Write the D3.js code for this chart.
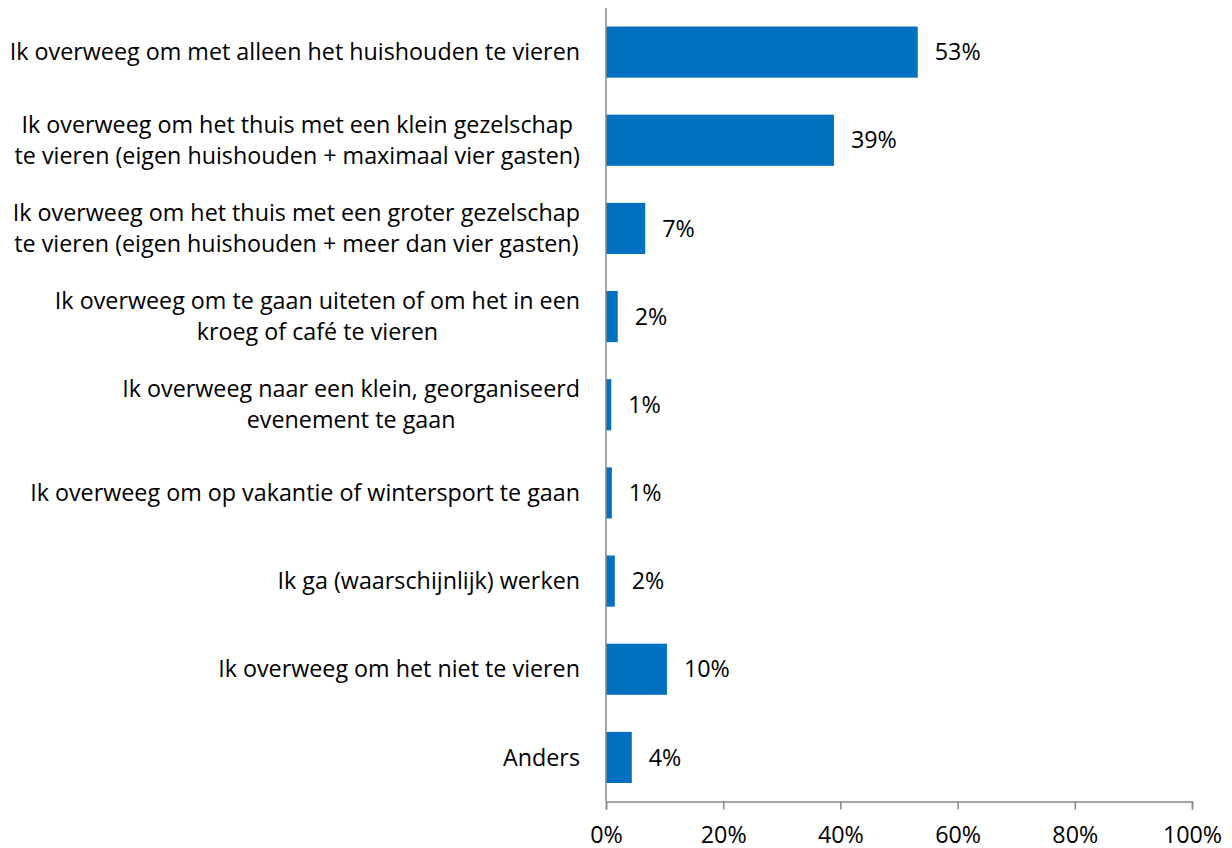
<!DOCTYPE html>
<html><head><meta charset="utf-8">
<script src="https://cdn.jsdelivr.net/npm/d3@7"></script>
<style>body{margin:0;background:#fff}svg{display:block}text{font-family:"Open Sans",sans-serif;fill:#000}</style>
</head><body><svg id="c" width="1232" height="848"></svg>
<script>
const categories = [
  ["Ik overweeg om met alleen het huishouden te vieren"],
  ["Ik overweeg om het thuis met een klein gezelschap","te vieren (eigen huishouden + maximaal vier gasten)"],
  ["Ik overweeg om het thuis met een groter gezelschap","te vieren (eigen huishouden + meer dan vier gasten)"],
  ["Ik overweeg om te gaan uiteten of om het in een","kroeg of café te vieren"],
  ["Ik overweeg naar een klein, georganiseerd","evenement te gaan"],
  ["Ik overweeg om op vakantie of wintersport te gaan"],
  ["Ik ga (waarschijnlijk) werken"],
  ["Ik overweeg om het niet te vieren"],
  ["Anders"]
];
const values = [53.2, 38.9, 6.7, 2.0, 0.9, 1.0, 1.5, 10.4, 4.4];
const labels = ["53%","39%","7%","2%","1%","1%","2%","10%","4%"];
const ticks = [0,20,40,60,80,100];

const svg = d3.select("#c");
const x = d3.scaleLinear().domain([0,100]).range([606,1192]);
const y = d3.scaleBand().domain(d3.range(categories.length)).range([8,801.5]).paddingInner(0.42).paddingOuter(0.21);
const fs = 23.3;

svg.selectAll("rect.bar").data(values).join("rect")
  .attr("x", x(0)).attr("y",(d,i)=>y(i)).attr("width",d=>x(d)-x(0)).attr("height",y.bandwidth())
  .attr("fill","#0070C0");

const xa = svg.append("g").attr("transform","translate(0,801.5)")
  .call(d3.axisBottom(x).tickValues(ticks).tickFormat(d=>d+"%").tickSize(8).tickPadding(17));
xa.select(".domain").attr("stroke","#868686").attr("stroke-width",1.5);
xa.selectAll(".tick line").attr("stroke","#868686").attr("stroke-width",1.5);
xa.selectAll(".tick text").style("font-size",fs+"px").attr("fill","#000").style("font-family","'Open Sans',sans-serif");

svg.append("line").attr("x1",606).attr("x2",606).attr("y1",8).attr("y2",801.5).attr("stroke","#868686").attr("stroke-width",1.5);

categories.forEach((lines,i)=>{
  const cy = y(i)+y.bandwidth()/2;
  const g = svg.append("g");
  const lh = 31;
  const ts = lines.map((l,j)=>g.append("text").text(l).style("font-size",fs+"px")
     .attr("y", cy + (j-(lines.length-1)/2)*lh).attr("dy","0.35em"));
  const w = d3.max(ts,t=>t.node().getComputedTextLength());
  const cx = 580 - w/2;
  ts.forEach(t=>t.attr("x",cx).attr("text-anchor","middle"));
});

svg.selectAll("text.val").data(values).join("text").attr("class","val")
  .attr("x",d=>x(d)+17).attr("y",(d,i)=>y(i)+y.bandwidth()/2).attr("dy","0.35em")
  .style("font-size",fs+"px").text((d,i)=>labels[i]);
</script></body></html>
